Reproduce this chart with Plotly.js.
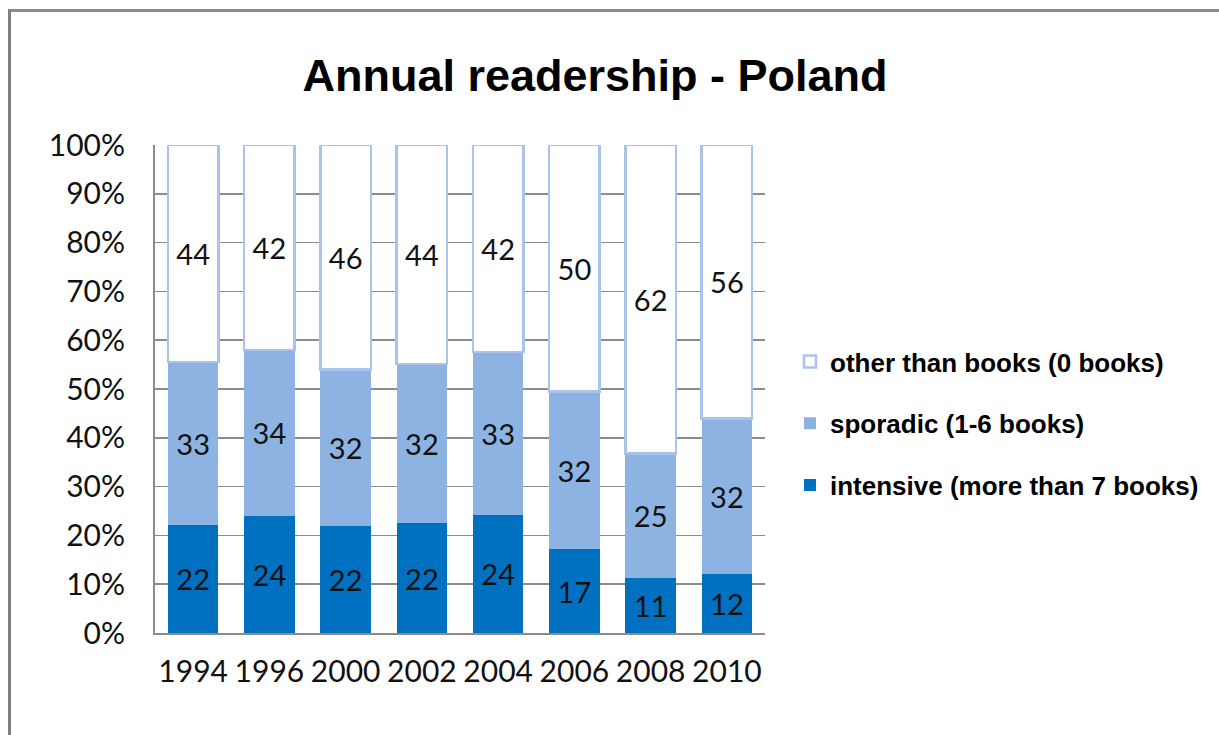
<!DOCTYPE html>
<html>
<head>
<meta charset="utf-8">
<script src="https://cdn.plot.ly/plotly-3.0.1.min.js"></script>
<style>
  html, body { margin: 0; padding: 0; background: #ffffff; }
  #frame { position: absolute; left: 8px; top: 9px; width: 1220px; height: 740px;
           border-left: 3px solid #7f7f7f; border-top: 3px solid #8c8c8c; }
  #chart { position: absolute; left: 0; top: 0; width: 1219px; height: 735px; }
</style>
</head>
<body>
<div id="frame"></div>
<div id="chart"></div>
<script>
const years = ['1994', '1996', '2000', '2002', '2004', '2006', '2008', '2010'];
const intensive = [22, 24, 22, 22, 24, 17, 11, 12];
const sporadic = [33, 34, 32, 32, 33, 32, 25, 32];
const otherThanBooks = [44, 42, 46, 44, 42, 50, 62, 56];
const seriesNames = ['intensive (more than 7 books)', 'sporadic (1-6 books)', 'other than books (0 books)'];
const yTickVals = [0, 10, 20, 30, 40, 50, 60, 70, 80, 90, 100];
const yTickText = ['0%', '10%', '20%', '30%', '40%', '50%', '60%', '70%', '80%', '90%', '100%'];

const labelFont = { family: 'Lato, "Open Sans", sans-serif', size: 29, color: '#111111' };
const tickFont = { family: 'Lato, "Open Sans", sans-serif', size: 30, color: '#111111' };

function barTrace(name, vals, color, lineColor, lineWidth, group, rank) {
  return {
    type: 'bar', x: years, y: vals, name: name,
    text: vals.map(String), texttemplate: '%{text}',
    textposition: 'inside', insidetextanchor: 'middle',
    textfont: labelFont, insidetextfont: labelFont, constraintext: 'none',
    marker: { color: color, line: { color: lineColor, width: lineWidth } },
    legendgroup: group, legendrank: rank, hoverinfo: 'x+y+name'
  };
}

const data = [
  barTrace(seriesNames[0], intensive, '#0070c0', '#0070c0', 0, 'g1', 3),
  barTrace(seriesNames[1], sporadic, '#8db3e2', '#c9d9f0', 0, 'g2', 2),
  barTrace(seriesNames[2], otherThanBooks, '#ffffff', '#a9c3ea', 2.5, 'g3', 1)
];

const layout = {
  width: 1219, height: 735,
  paper_bgcolor: 'rgba(0,0,0,0)', plot_bgcolor: 'rgba(0,0,0,0)',
  margin: { l: 155, r: 454, t: 145, b: 102, pad: 0 },
  barmode: 'stack', barnorm: 'percent', bargap: 0.34,
  title: {
    text: '<b>Annual readership - Poland</b>',
    font: { family: '"Liberation Sans", Arial, sans-serif', size: 45, color: '#000000' },
    x: 595 / 1219, xref: 'container', xanchor: 'center',
    y: 1 - 75 / 735, yref: 'container', yanchor: 'middle'
  },
  xaxis: {
    type: 'category', showgrid: false, zeroline: false,
    showline: true, linecolor: '#8c8c8c', linewidth: 2,
    ticks: '', ticklabelstandoff: 11,
    tickfont: tickFont
  },
  yaxis: {
    range: [0, 100], tickvals: yTickVals, ticktext: yTickText,
    showgrid: true, gridcolor: '#8c8c8c', gridwidth: 1.5,
    zeroline: false, showline: true, linecolor: '#8c8c8c', linewidth: 2,
    ticks: '', ticklabelstandoff: 22,
    tickfont: tickFont
  },
  showlegend: true,
  legend: {
    x: 790 / 1219, xref: 'container', xanchor: 'left',
    y: 1 - 338 / 735, yref: 'container', yanchor: 'top',
    traceorder: 'grouped', tracegroupgap: 25,
    font: { family: '"Liberation Sans", Arial, sans-serif', size: 26, color: '#000000', weight: 'bold' },
    bgcolor: 'rgba(0,0,0,0)', itemwidth: 30
  }
};

Plotly.newPlot('chart', data, layout, { displayModeBar: false, staticPlot: true });
</script>
</body>
</html>
